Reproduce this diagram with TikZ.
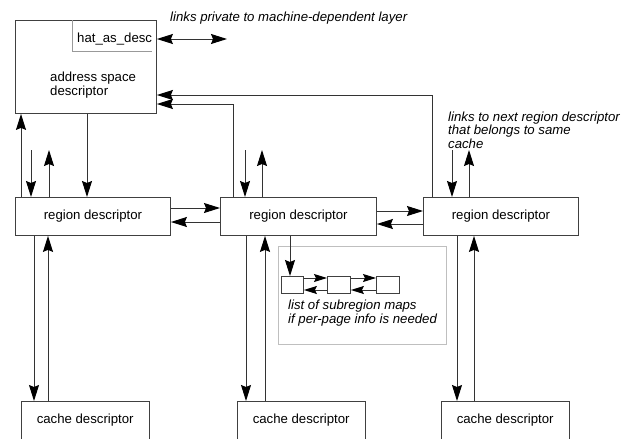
\documentclass[tikz,border=0pt]{standalone}
\usepackage{fontspec}
\setmainfont{Liberation Sans}
\usetikzlibrary{arrows.meta}

\begin{document}
\begin{tikzpicture}[x=1pt, y=-1pt, >={Stealth[length=16pt,width=10pt,inset=2pt,color=black]},
  every node/.style={font=\fontsize{13.2}{13.5}\selectfont, inner sep=0pt},
  box/.style={draw=black!75, line width=0.9pt, anchor=north west},
  lnk/.style={->, draw=black!80, line width=1pt},
  small/.style={>={Stealth[length=13pt,width=8pt,inset=2pt,color=black]}},
  note/.style={anchor=west, align=left, font=\fontsize{13.2}{13.5}\selectfont\itshape}]
  \useasboundingbox (0,0) rectangle (624,439);

  % address space descriptor
  \node[box, minimum width=141pt, minimum height=93pt] (as) at (15,20) {};
  \node[anchor=west, align=left] (astext) at (50,85) {address space\\descriptor};
  \node[anchor=west] (hat) at (77,39) {hat\_as\_desc};
  \draw[black!40, line width=0.9pt] (as.north -| 72,0) |- (152,51);
  \coordinate (mdl) at (227,39);
  \draw[lnk, <->] (as.east |- hat.east) -- (mdl);
  \node[note] (privnote) at (170,18) {links private to machine-dependent layer};

  % region descriptors
  \node[box, minimum width=155pt, minimum height=38pt] (rdA) at (15,197) {region descriptor};
  \node[box, minimum width=156pt, minimum height=38pt] (rdB) at (220,197) {region descriptor};
  \node[box, minimum width=155pt, minimum height=38pt] (rdC) at (423,197) {region descriptor};
  \node[note] (nextnote) at (448,130) {links to next region descriptor\\that belongs to same\\cache};

  % cache descriptors (open at the bottom)
  \node[anchor=north west, minimum width=128pt, minimum height=38pt] (cdA) at (21,401) {cache descriptor};
  \node[anchor=north west, minimum width=128pt, minimum height=38pt] (cdB) at (237,401) {cache descriptor};
  \node[anchor=north west, minimum width=128pt, minimum height=38pt] (cdC) at (441,401) {cache descriptor};
  \draw[black!75, line width=0.9pt] (cdA.south west) |- (cdA.north east) -- (cdA.south east);
  \draw[black!75, line width=0.9pt] (cdB.south west) |- (cdB.north east) -- (cdB.south east);
  \draw[black!75, line width=0.9pt] (cdC.south west) |- (cdC.north east) -- (cdC.south east);

  % subregion maps
  \node[draw=black!25, line width=0.9pt, anchor=north west, minimum width=168pt, minimum height=98pt] (sub) at (278,246) {};
  \node[box, minimum width=22pt, minimum height=17pt] (smA) at (281,276) {};
  \node[box, minimum width=23pt, minimum height=17pt] (smB) at (327,276) {};
  \node[box, minimum width=23pt, minimum height=17pt] (smC) at (376,276) {};
  \node[note] (subnote) at (288,313) {list of subregion maps\\if per-page info is needed};

  % links to the address space
  \draw[lnk] (rdA.north -| 21,0) -- (as.south -| 21,0);
  \draw[lnk] (as.south -| 87,0) -- (rdA.north -| 87,0);
  \draw[lnk] (rdB.north -| 233,0) |- (as.east |- 0,104);
  \draw[lnk] (rdC.north -| 432,0) |- (as.east |- 0,95);

  % links to next region of same cache
  \draw[lnk] (31,150) -- (rdA.north -| 31,0);
  \draw[lnk] (rdA.north -| 49,0) -- (49,150);
  \draw[lnk] (245,150) -- (rdB.north -| 245,0);
  \draw[lnk] (rdB.north -| 262,0) -- (262,150);
  \draw[lnk] (452,150) -- (rdC.north -| 452,0);
  \draw[lnk] (rdC.north -| 469,0) -- (469,150);

  % region list
  \draw[lnk] (rdA.east |- 0,208) -- (rdB.west |- 0,208);
  \draw[lnk] (rdB.west |- 0,222) -- (rdA.east |- 0,222);
  \draw[lnk] (rdB.east |- 0,211) -- (rdC.west |- 0,211);
  \draw[lnk] (rdC.west |- 0,224) -- (rdB.east |- 0,224);

  % region <-> cache
  \draw[lnk] (rdA.south -| 34,0) -- (cdA.north -| 34,0);
  \draw[lnk] (cdA.north -| 48,0) -- (rdA.south -| 48,0);
  \draw[lnk] (rdB.south -| 246,0) -- (cdB.north -| 246,0);
  \draw[lnk] (cdB.north -| 265,0) -- (rdB.south -| 265,0);
  \draw[lnk] (rdC.south -| 457,0) -- (cdC.north -| 457,0);
  \draw[lnk] (cdC.north -| 474,0) -- (rdC.south -| 474,0);

  % subregion list
  \draw[lnk] (rdB.south -| 290,0) -- (smA.north -| 290,0);
  \draw[lnk, small] (smA.east |- 0,278) -- (smB.west |- 0,278);
  \draw[lnk, small] (smB.west |- 0,290) -- (smA.east |- 0,290);
  \draw[lnk, small] (smB.east |- 0,278) -- (smC.west |- 0,278);
  \draw[lnk, small] (smC.west |- 0,290) -- (smB.east |- 0,290);
\end{tikzpicture}
\end{document}
